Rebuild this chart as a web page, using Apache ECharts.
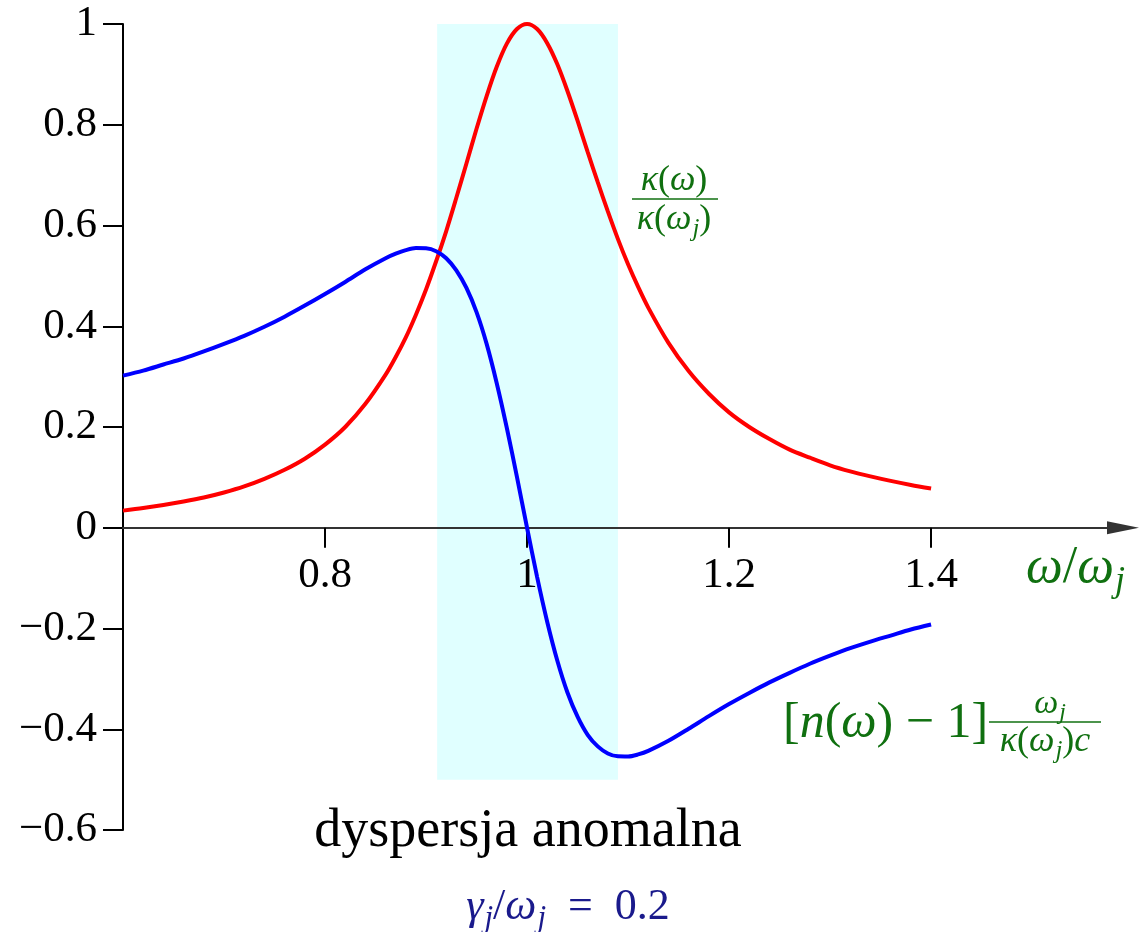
<!DOCTYPE html>
<html>
<head>
<meta charset="utf-8">
<script src="https://cdn.jsdelivr.net/npm/echarts@6/dist/echarts.min.js"></script>
<style>
	html, body { margin: 0; padding: 0; background: #fff; }
	#chart { width: 1140px; height: 932px; }
</style>
</head>
<body>
<div id="chart"></div>
<script>
	// omega / omega_j
	var omega = [0.60, 0.62, 0.64, 0.66, 0.68, 0.70, 0.72, 0.74, 0.76, 0.78, 0.80, 0.82, 0.84, 0.86,
		0.87, 0.88, 0.89, 0.90, 0.91, 0.92, 0.93, 0.94, 0.95, 0.96, 0.97, 0.98, 0.99, 1.00,
		1.01, 1.02, 1.03, 1.04, 1.05, 1.06, 1.07, 1.08, 1.09, 1.10, 1.11, 1.12,
		1.14, 1.16, 1.18, 1.20, 1.22, 1.24, 1.26, 1.28, 1.30, 1.32, 1.34, 1.36, 1.38, 1.40];
	// kappa(omega)/kappa(omega_j)  (red)
	var kappa = [0.034, 0.039, 0.045, 0.052, 0.060, 0.070, 0.082, 0.097, 0.115, 0.137, 0.165, 0.200, 0.246, 0.304,
		0.339, 0.378, 0.423, 0.473, 0.529, 0.589, 0.655, 0.723, 0.792, 0.857, 0.915, 0.961, 0.990, 1.000,
		0.990, 0.962, 0.920, 0.867, 0.808, 0.746, 0.686, 0.628, 0.573, 0.523, 0.478, 0.437,
		0.367, 0.311, 0.266, 0.229, 0.200, 0.176, 0.155, 0.139, 0.124, 0.112, 0.102, 0.093, 0.085, 0.078];
	// [n(omega)-1] omega_j/(kappa(omega_j) c)  (blue)
	var refr = [0.302, 0.312, 0.324, 0.336, 0.350, 0.365, 0.381, 0.399, 0.419, 0.441, 0.464, 0.488, 0.513, 0.535,
		0.544, 0.551, 0.5551, 0.5547, 0.549, 0.535, 0.511, 0.476, 0.428, 0.365, 0.287, 0.198, 0.101, 0.000,
		-0.098, -0.187, -0.264, -0.327, -0.375, -0.411, -0.434, -0.448, -0.4538, -0.4541, -0.450, -0.443,
		-0.423, -0.399, -0.374, -0.350, -0.328, -0.307, -0.288, -0.270, -0.254, -0.239, -0.226, -0.214, -0.202, -0.192];
	var xTicks = [0.8, 1, 1.2, 1.4];
	var bandX = [0.911, 1.09];
	var bandY = [-0.5, 1];

	var FONT = 'Liberation Serif';
	var GREEN = '#107010';
	var NAVY = '#1a1a8c';

	function fmt(v) {
		var r = Math.round(v * 10) / 10;
		if (r < 0) return '\u2212' + (-r);
		return String(r);
	}

	function pairs(xs, ys) {
		var out = [];
		for (var i = 0; i < xs.length; i++) out.push([xs[i], ys[i]]);
		return out;
	}

	// rich styles for math text at size F: i italic, r upright, s subscript
	function mathRich(F) {
		return {
			i: { fontFamily: FONT, fontStyle: 'italic', fontSize: F, lineHeight: F, verticalAlign: 'top' },
			r: { fontFamily: FONT, fontSize: F, lineHeight: F, verticalAlign: 'top' },
			s: { fontFamily: FONT, fontStyle: 'italic', fontSize: Math.round(F * 0.7), lineHeight: Math.round(F * 0.7),
				verticalAlign: 'top', padding: [Math.round(F * 0.42), 0, 0, 1] }
		}
	}

	function mathText(x, y, text, F, color, align) {
		return {
			type: 'text',
			x: x,
			y: y,
			style: {
				text: text,
				rich: mathRich(F),
				fill: color,
				align: align || 'center',
				verticalAlign: 'middle'
			}
		}
	}

	function bar(x1, x2, y, color) {
		return {
			type: 'line',
			shape: { x1: x1, y1: y, x2: x2, y2: y },
			style: { stroke: color, lineWidth: 1.6 }
		}
	}

	var chart = echarts.init(document.getElementById('chart'));

	// grid: y from -0.6 (830px) to 1 (24px), so y = 0 sits 302px above the bottom
	var gridBottom = 102;
	var zeroOffset = -(932 - gridBottom - (24 + 806 * 1 / 1.6));

	var option = {
		animation: false,
		grid: {
			left: 123,
			right: 17,
			top: 24,
			bottom: gridBottom,
			containLabel: false,
			outerBoundsMode: 'none'
		},
		xAxis: {
			type: 'value',
			min: 0.6,
			max: 1.59,
			z: 1,
			offset: zeroOffset,
			axisLine: {
				onZero: false,
				symbol: ['none', 'triangle'],
				symbolSize: [13, 32],
				lineStyle: { color: '#333', width: 2 }
			},
			axisTick: {
				customValues: xTicks,
				length: 20,
				lineStyle: { color: '#000', width: 2 }
			},
			axisLabel: {
				customValues: xTicks,
				formatter: fmt,
				fontFamily: FONT,
				fontSize: 43,
				color: '#000',
				margin: 26
			},
			splitLine: { show: false }
		},
		yAxis: {
			type: 'value',
			min: -0.6,
			max: 1,
			interval: 0.2,
			axisLine: {
				show: true,
				onZero: false,
				lineStyle: { color: '#000', width: 2 }
			},
			axisTick: {
				show: true,
				length: 20,
				lineStyle: { color: '#000', width: 2 }
			},
			axisLabel: {
				formatter: fmt,
				fontFamily: FONT,
				fontSize: 43,
				color: '#000',
				margin: 26
			},
			splitLine: { show: false }
		},
		series: [{
			// anomalous dispersion band
			type: 'line',
			data: [],
			z: 0,
			silent: true,
			markArea: {
				silent: true,
				itemStyle: { color: '#e0ffff', opacity: 1 },
				data: [[{ xAxis: bandX[0], yAxis: bandY[0] }, { xAxis: bandX[1], yAxis: bandY[1] }]]
			}
		}, {
			name: 'kappa',
			type: 'line',
			data: pairs(omega, kappa),
			showSymbol: false,
			smooth: 0.3,
			z: 2,
			lineStyle: { color: '#ff0000', width: 4 }
		}, {
			name: 'n',
			type: 'line',
			data: pairs(omega, refr),
			showSymbol: false,
			smooth: 0.3,
			z: 3,
			lineStyle: { color: '#0000ff', width: 4 }
		}],
		graphic: [
			mathText(674, 181, '{i|κ}{r|(}{i|ω}{r|)}', 36, GREEN),
			bar(632, 718, 199, GREEN),
			mathText(674, 220, '{i|κ}{r|(}{i|ω}{s|j}{r|)}', 36, GREEN),

			mathText(783, 724, '{r|[}{i|n}{r|(}{i|ω}{r|) − 1]}', 50, GREEN, 'left'),
			mathText(1050, 704, '{i|ω}{s|j}', 34, GREEN),
			bar(989, 1101, 722, GREEN),
			mathText(1045, 742, '{i|κ}{r|(}{i|ω}{s|j}{r|)}{i|c}', 36, GREEN),

			mathText(1026, 568, '{i|ω}{r|/}{i|ω}{s|j}', 52, GREEN, 'left'),

			{
				type: 'text',
				x: 528,
				y: 832,
				style: {
					text: 'dyspersja anomalna',
					fontFamily: FONT,
					fontSize: 54,
					fill: '#000',
					align: 'center',
					verticalAlign: 'middle'
				}
			},
			mathText(568, 907, '{i|γ}{s|j}{r|/}{i|ω}{s|j}{r|  =  0.2}', 44, NAVY)
		]
	};

	chart.setOption(option);
</script>
</body>
</html>
